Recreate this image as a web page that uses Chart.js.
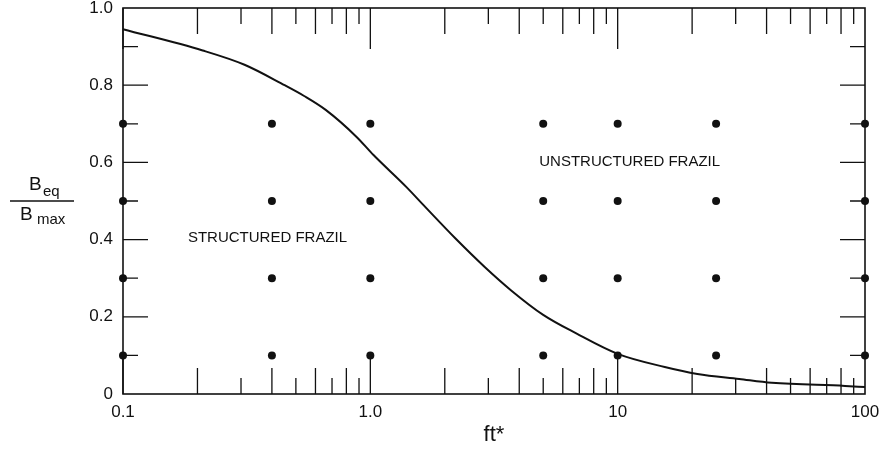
<!DOCTYPE html>
<html>
<head>
<meta charset="utf-8">
<script src="https://cdn.jsdelivr.net/npm/chart.js@4.4.1/dist/chart.umd.min.js"></script>
<style>
  html, body { margin: 0; padding: 0; background: #fff; }
  #wrap { width: 883px; height: 451px; }
</style>
</head>
<body>
<div id="wrap"><canvas id="frazilChart" width="883" height="451"></canvas></div>
<script>
// ===================== DATA =====================

// equilibrium curve B_eq / B_max against ft*
const curveX = [0.1, 0.21, 0.31, 0.45, 0.54, 0.66, 0.88, 1.03, 1.4, 1.67, 2.2, 2.9, 3.7, 5.0, 6.8, 10, 15.5, 21, 31, 42, 83, 100];
const curveY = [0.945, 0.89, 0.853, 0.80, 0.772, 0.736, 0.666, 0.619, 0.536, 0.484, 0.404, 0.329, 0.269, 0.205, 0.157, 0.104, 0.07, 0.052, 0.039, 0.029, 0.021, 0.018];

// grid of sample runs (every x with every y)
const dotX = [0.1, 0.4, 1, 5, 10, 25, 100];
const dotY = [0.1, 0.3, 0.5, 0.7];

// tick labels
const xTickValues = [0.1, 1, 10, 100];
const xTickLabels = ['0.1', '1.0', '10', '100'];
const yTickValues = [0, 0.2, 0.4, 0.6, 0.8, 1.0];
const yTickLabels = ['0', '0.2', '0.4', '0.6', '0.8', '1.0'];

// region names
const regionLabels = ['STRUCTURED FRAZIL', 'UNSTRUCTURED FRAZIL'];

const FONT = "'Liberation Sans', Arial, Helvetica, sans-serif";
const INK = '#111';

// ======================================================================

const dots = [];
dotX.forEach(x => dotY.forEach(y => dots.push({ x: x, y: y })));
const curve = curveX.map((x, i) => ({ x: x, y: curveY[i] }));

// no extra room for overhanging labels, the padding below sets the box
function noOverhang(scale) {
    scale.paddingTop = 0;
    scale.paddingBottom = 0;
    scale.paddingLeft = 0;
    scale.paddingRight = 0;
}

// frame, inward ticks, region text and the stacked y title
const figurePlugin = {
    id: 'figure',
    beforeDatasetsDraw(chart) {
        const ctx = chart.ctx;
        const area = chart.chartArea;
        const xs = chart.scales.x;
        const ys = chart.scales.y;
        ctx.save();
        ctx.strokeStyle = INK;

        // minor/major ticks along the log axis, top and bottom
        ctx.lineWidth = 1.3;
        [0.1, 1, 10].forEach(dec => {
            for (let k = 1; k <= 9; k++) {
                const px = xs.getPixelForValue(dec * k);
                const len = k === 1 ? 41 : (k % 2 === 0 ? 26 : 16);
                ctx.beginPath();
                ctx.moveTo(px, area.bottom);
                ctx.lineTo(px, area.bottom - len);
                ctx.moveTo(px, area.top);
                ctx.lineTo(px, area.top + len);
                ctx.stroke();
            }
        });

        // ticks on the left and right sides
        for (let i = 1; i <= 9; i++) {
            const py = ys.getPixelForValue(i / 10);
            const len = i % 2 === 0 ? 25 : 15;
            ctx.beginPath();
            ctx.moveTo(area.left, py);
            ctx.lineTo(area.left + len, py);
            ctx.moveTo(area.right, py);
            ctx.lineTo(area.right - len, py);
            ctx.stroke();
        }

        // frame
        ctx.lineWidth = 1.6;
        ctx.strokeRect(area.left, area.top, area.right - area.left, area.bottom - area.top);

        // region labels
        ctx.fillStyle = INK;
        ctx.font = '15px ' + FONT;
        ctx.textAlign = 'left';
        ctx.textBaseline = 'middle';
        ctx.fillText(regionLabels[0], xs.getPixelForValue(0.183), ys.getPixelForValue(0.404));
        ctx.fillText(regionLabels[1], xs.getPixelForValue(4.82), ys.getPixelForValue(0.601));
        ctx.restore();
    },
    afterDraw(chart) {
        const ctx = chart.ctx;
        ctx.save();
        ctx.fillStyle = INK;
        ctx.strokeStyle = INK;
        ctx.textAlign = 'left';
        ctx.textBaseline = 'alphabetic';

        // numerator B_eq
        ctx.font = '19px ' + FONT;
        ctx.fillText('B', 29, 190);
        ctx.font = '15px ' + FONT;
        ctx.fillText('eq', 43, 196);

        // fraction bar
        ctx.lineWidth = 1.3;
        ctx.beginPath();
        ctx.moveTo(10, 201);
        ctx.lineTo(74, 201);
        ctx.stroke();

        // denominator B_max
        ctx.font = '19px ' + FONT;
        ctx.fillText('B', 20, 220);
        ctx.font = '15px ' + FONT;
        ctx.fillText('max', 37, 224);
        ctx.restore();
    }
};

const frazilChart = new Chart(document.getElementById('frazilChart'), {
    type: 'scatter',
    data: {
        datasets: [{
            label: 'curve',
            data: curve,
            showLine: true,
            borderColor: INK,
            borderWidth: 2,
            pointRadius: 0,
            cubicInterpolationMode: 'monotone',
            fill: false,
            clip: false
        }, {
            label: 'runs',
            data: dots,
            pointRadius: 4,
            pointBackgroundColor: INK,
            pointBorderColor: INK,
            pointBorderWidth: 0,
            clip: false
        }]
    },
    options: {
        responsive: false,
        animation: false,
        devicePixelRatio: 1,
        layout: { padding: { top: 8, right: 18, left: 0, bottom: 0 } },
        plugins: {
            legend: { display: false },
            tooltip: { enabled: false }
        },
        scales: {
            x: {
                type: 'logarithmic',
                min: 0.1,
                max: 100,
                grid: { display: false, drawTicks: false },
                border: { display: false },
                afterBuildTicks: scale => {
                    scale.ticks = xTickValues.map(v => ({ value: v }));
                },
                afterFit: scale => { scale.height = 57; noOverhang(scale); },
                ticks: {
                    color: INK,
                    padding: 8,
                    maxRotation: 0,
                    autoSkip: false,
                    font: { family: FONT, size: 17 },
                    callback: (v) => {
                        const i = xTickValues.indexOf(v);
                        return i >= 0 ? xTickLabels[i] : '';
                    }
                },
                title: {
                    display: true,
                    text: 'ft*',
                    color: INK,
                    font: { family: FONT, size: 22 },
                    padding: { top: 0, bottom: 3 }
                }
            },
            y: {
                type: 'linear',
                min: 0,
                max: 1,
                grid: { display: false, drawTicks: false },
                border: { display: false },
                afterBuildTicks: scale => {
                    scale.ticks = yTickValues.map(v => ({ value: v }));
                },
                afterFit: scale => { scale.width = 123; noOverhang(scale); },
                ticks: {
                    color: INK,
                    padding: 10,
                    font: { family: FONT, size: 17 },
                    callback: (v) => {
                        const i = yTickValues.findIndex(t => Math.abs(t - v) < 1e-9);
                        return i >= 0 ? yTickLabels[i] : '';
                    }
                }
            }
        }
    },
    plugins: [figurePlugin]
});
</script>
</body>
</html>
